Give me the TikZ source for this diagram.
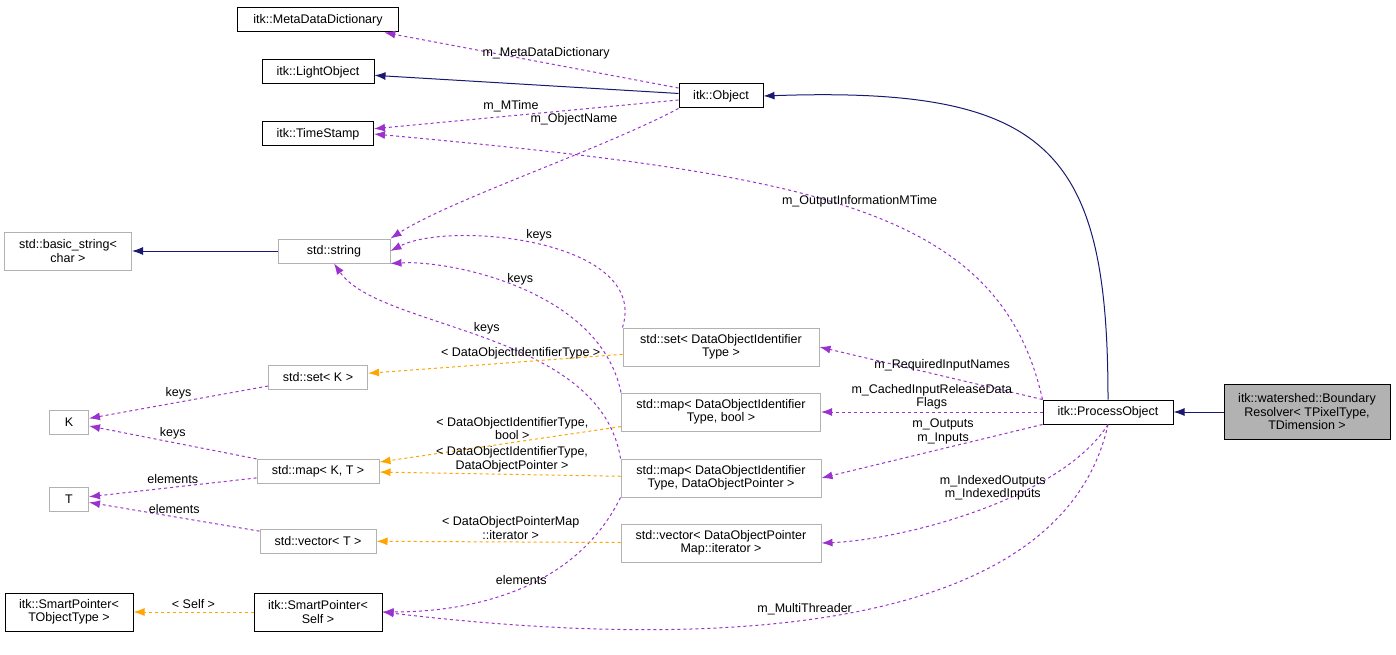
\documentclass[tikz,border=0pt]{standalone}
\usepackage{fontspec}
\setmainfont{Liberation Sans}
\usetikzlibrary{arrows.meta,positioning}

\definecolor{usecol}{RGB}{154,50,205}
\definecolor{tplcol}{RGB}{255,165,0}
\definecolor{inhcol}{RGB}{25,25,112}

\begin{document}
\begin{tikzpicture}
			[x=1pt,y=-1pt,font=\fontsize{12.5}{13.5}\selectfont,line width=1pt,
			cls/.style={draw=black,fill=white,inner sep=2pt,minimum height=24pt,align=center},
			ext/.style={cls,draw=black!30},
			two/.style={minimum height=38pt},
			hit/.style={cls,fill=black!30},
			inh/.style={draw=inhcol,-{Latex[length=11pt,width=8pt]}},
			use/.style={draw=usecol,dashed,-{Latex[length=11pt,width=8pt]}},
			tpl/.style={draw=tplcol,dashed,-{Latex[length=11pt,width=8pt]}},
			lbl/.style={align=center,inner sep=1pt}]

			\useasboundingbox (0,0) rectangle (1396,655);

			% left column
			\node [cls,minimum width=161pt](mdd)  at (318,20)  {itk::MetaDataDictionary};
			\node [cls,minimum width=112pt](lobj) at (318,72)  {itk::LightObject};
			\node [cls,minimum width=111pt](ts)   at (318,134) {itk::TimeStamp};
			\node [ext,two,minimum width=127pt](bstr) at (68,251)  {std::basic\_string\textless\\ char \textgreater};
			\node [ext,minimum width=112pt](str)  at (334,251) {std::string};
			\node [ext,minimum width=39pt](k)     at (69,422)  {K};
			\node [ext,minimum width=39pt](t)     at (69,499)  {T};
			\node [ext,minimum width=99pt](setk)  at (318,377) {std::set\textless{} K \textgreater};
			\node [ext,minimum width=122pt](mapkt) at (318,471) {std::map\textless{} K, T \textgreater};
			\node [ext,minimum width=116pt](vect) at (318,541) {std::vector\textless{} T \textgreater};
			\node [cls,two,minimum width=128pt](spto) at (69,612)  {itk::SmartPointer\textless\\ TObjectType \textgreater};
			\node [cls,two,minimum width=128pt](sps)  at (318,612) {itk::SmartPointer\textless\\ Self \textgreater};

			% middle column
			\node [cls,minimum width=84pt](obj)   at (721,96)  {itk::Object};
			\node [ext,two,minimum width=196pt](setd) at (721,347) {std::set\textless{} DataObjectIdentifier\\ Type \textgreater};
			\node [ext,two,minimum width=199pt](mapb) at (721,412) {std::map\textless{} DataObjectIdentifier\\ Type, bool \textgreater};
			\node [ext,two,minimum width=200pt](mapp) at (721,478) {std::map\textless{} DataObjectIdentifier\\ Type, DataObjectPointer \textgreater};
			\node [ext,two,minimum width=200pt](vecp) at (721,543) {std::vector\textless{} DataObjectPointer\\ Map::iterator \textgreater};

			% right column
			\node [cls,minimum width=130pt](po)   at (1108,412) {itk::ProcessObject};
			\node [hit,minimum width=166pt,minimum height=55pt](br) at (1307,412) {itk::watershed::Boundary\\ Resolver\textless{} TPixelType,\\ TDimension \textgreater};

			% inheritance
			\draw [inh] (br) -- (po);
			\draw [inh] (po.north) .. controls (1108,150) and (1050,86) .. (obj.east);
			\draw [inh] (obj) -- (lobj);
			\draw [inh] (str) -- (bstr);

			% members
			\draw [use] (obj) -- node [lbl,above=2pt,pos=0.45] {m\_MetaDataDictionary} (mdd);
			\draw [use] (obj) -- node [lbl,above=2pt,pos=0.55] {m\_MTime} (ts);
			\draw [use] (obj.south west) .. controls (600,150) and (450,200) .. node [lbl,pos=0.15,above left=1pt and 20pt] {m\_ObjectName} (str.north east);
			\draw [use] (po.north west) .. controls (1000,210) and (820,175) .. node [lbl,pos=0.5,above=2pt] {m\_OutputInformationMTime} (ts.east);
			\draw [use] (setd.north west) .. controls (650,240) and (450,220) .. node [lbl,pos=0.5,above=2pt] {keys} (str.east);
			\draw [use] (mapb.north west) .. controls (600,290) and (450,260) .. node [lbl,pos=0.5,above=2pt] {keys} (str.south east);
			\draw [use] (mapp.north west) .. controls (600,330) and (380,330) .. node [lbl,pos=0.5,above=2pt] {keys} (str.south);
			\draw [use] (po.north west) -- node [lbl,above=3pt,pos=0.45] {m\_RequiredInputNames} (setd.east);
			\draw [use] (po) -- node [lbl,above=1pt,pos=0.5] {m\_CachedInputReleaseData\\ Flags} (mapb);
			\draw [use] (po.south west) -- node [lbl,above=3pt,pos=0.45] {m\_Outputs\\ m\_Inputs} (mapp.east);
			\draw [use] (po.south) .. controls (1060,500) and (900,540) .. node [lbl,pos=0.45,above=3pt] {m\_IndexedOutputs\\ m\_IndexedInputs} (vecp.east);
			\draw [use] (po.south) .. controls (1060,640) and (700,650) .. node [lbl,pos=0.55,above=3pt] {m\_MultiThreader} (sps.east);
			\draw [use] (mapp.south west) .. controls (570,600) and (450,612) .. node [lbl,pos=0.45,above=2pt] {elements} (sps.east);
			\draw [use] (setk) -- node [lbl,above=2pt] {keys} (k);
			\draw [use] (mapkt) -- node [lbl,above=2pt] {keys} (k);
			\draw [use] (mapkt) -- node [lbl,above=2pt] {elements} (t);
			\draw [use] (vect) -- node [lbl,above=2pt] {elements} (t);

			% template instances
			\draw [tpl] (setd) -- node [lbl,above=1pt,pos=0.4] {\textless{} DataObjectIdentifierType \textgreater} (setk);
			\draw [tpl] (mapb) -- node [lbl,above=1pt,pos=0.45] {\textless{} DataObjectIdentifierType,\\ bool \textgreater} (mapkt);
			\draw [tpl] (mapp) -- node [lbl,above=1pt,pos=0.45] {\textless{} DataObjectIdentifierType,\\ DataObjectPointer \textgreater} (mapkt);
			\draw [tpl] (vecp) -- node [lbl,above=1pt,pos=0.45] {\textless{} DataObjectPointerMap\\ ::iterator \textgreater} (vect);
			\draw [tpl] (sps) -- node [lbl,above=2pt] {\textless{} Self \textgreater} (spto);

			\end{tikzpicture}
\end{document}
